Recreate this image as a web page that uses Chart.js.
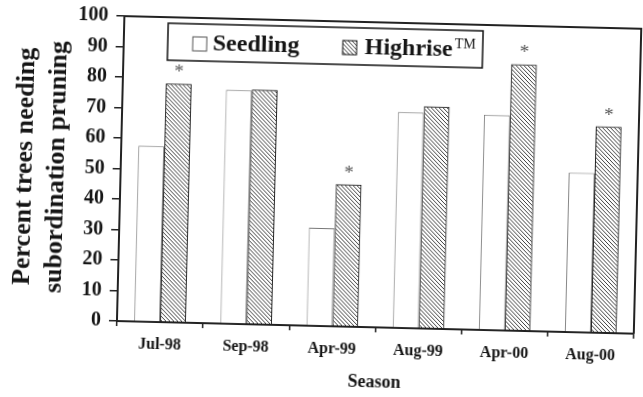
<!DOCTYPE html>
<html>
<head>
<meta charset="utf-8">
<script src="https://cdn.jsdelivr.net/npm/chart.js@4"></script>
<style>
  html, body { margin: 0; padding: 0; background: #fff; overflow: hidden; }
  /* the scanned figure sits slightly rotated on the page */
  #wrap { width: 643px; height: 397px; transform: rotate(1.4deg); transform-origin: 50% 50%; }
</style>
</head>
<body>
<div id="wrap"><canvas id="chart" width="643" height="397"></canvas></div>
<script>
const seasons = ['Jul-98', 'Sep-98', 'Apr-99', 'Aug-99', 'Apr-00', 'Aug-00'];
const seedling = [57.6, 76.6, 32.1, 70.7, 70.6, 52.3];
const highrise = [78.3, 77.0, 46.6, 72.9, 87.4, 67.7];
const significant = [true, false, true, false, true, true];
const seriesNames = ['Seedling', 'Highrise'];

const SERIF = '"Liberation Serif", "Times New Roman", serif';
const INK = '#151515';

const canvas = document.getElementById('chart');
const ctx = canvas.getContext('2d');

// diagonal hatch for the Highrise bars
const hatch = (() => {
  const c = document.createElement('canvas');
  c.width = 4; c.height = 4;
  const g = c.getContext('2d');
  g.strokeStyle = '#1a1a1a';
  g.lineWidth = 0.85;
  g.beginPath();
  g.moveTo(-1, -1); g.lineTo(5, 5);
  g.moveTo(-1, 3); g.lineTo(1, 5);
  g.moveTo(3, -1); g.lineTo(5, 1);
  g.stroke();
  return ctx.createPattern(c, 'repeat');
})();

// top + right frame lines, the boxed legend and the asterisks
const extras = {
  id: 'extras',
  afterDraw(chart) {
    const { ctx, chartArea: a } = chart;
    ctx.save();

    ctx.strokeStyle = '#222';
    ctx.lineWidth = 2;
    ctx.beginPath();
    ctx.moveTo(a.left, a.top);
    ctx.lineTo(a.right, a.top);
    ctx.lineTo(a.right, a.bottom);
    ctx.stroke();

    // asterisks over significant Highrise bars
    const meta = chart.getDatasetMeta(1);
    ctx.fillStyle = '#555';
    ctx.font = '19px ' + SERIF;
    ctx.textAlign = 'center';
    ctx.textBaseline = 'alphabetic';
    significant.forEach((s, i) => {
      if (!s) return;
      const el = meta.data[i];
      ctx.fillText('*', el.x, el.y - 6);
    });

    // legend box
    const bx = a.left + 44, by = a.top + 6, bw = 315, bh = 37;
    ctx.fillStyle = '#fff';
    ctx.fillRect(bx, by, bw, bh);
    ctx.strokeStyle = '#111';
    ctx.lineWidth = 1.5;
    ctx.strokeRect(bx, by, bw, bh);

    // seedling swatch
    ctx.lineWidth = 1;
    ctx.strokeStyle = '#555';
    ctx.strokeRect(bx + 25, by + 13, 14, 14);
    // highrise swatch
    ctx.fillStyle = hatch;
    ctx.fillRect(bx + 175, by + 13, 14, 14);
    ctx.strokeStyle = '#111';
    ctx.strokeRect(bx + 175, by + 13, 14, 14);

    ctx.fillStyle = INK;
    ctx.textAlign = 'left';
    ctx.textBaseline = 'alphabetic';
    ctx.font = 'bold 24px ' + SERIF;
    ctx.fillText(seriesNames[0], bx + 45, by + 26);
    ctx.fillText(seriesNames[1], bx + 197, by + 26);
    const w = ctx.measureText(seriesNames[1]).width;
    ctx.font = '14px ' + SERIF;
    ctx.fillText('TM', bx + 199 + w, by + 18);

    ctx.restore();
  }
};

new Chart(canvas, {
  type: 'bar',
  data: {
    labels: seasons,
    datasets: [{
      label: seriesNames[0],
      data: seedling,
      backgroundColor: '#fff',
      borderColor: '#777',
      borderWidth: 1
    }, {
      label: seriesNames[1],
      data: highrise,
      backgroundColor: hatch,
      borderColor: '#111',
      borderWidth: 1
    }]
  },
  options: {
    responsive: false,
    animation: false,
    layout: { padding: { top: 21, right: 6, left: 0, bottom: 0 } },
    datasets: {
      bar: { categoryPercentage: 0.6, barPercentage: 1 }
    },
    plugins: {
      legend: { display: false },
      tooltip: { enabled: false }
    },
    scales: {
      x: {
        grid: { offset: true, drawOnChartArea: false, tickLength: 5, color: '#222', lineWidth: 1.5 },
        border: { color: '#222', width: 2 },
        ticks: {
          color: INK,
          padding: 8,
          maxRotation: 0,
          autoSkip: false,
          font: { family: SERIF, size: 16, weight: 'bold' }
        },
        title: {
          display: true,
          text: 'Season',
          color: INK,
          padding: { top: 0, bottom: 5 },
          font: { family: SERIF, size: 18, weight: 'bold' }
        },
        afterFit: s => { s.height = 71; }
      },
      y: {
        min: 0,
        max: 100,
        grid: { drawOnChartArea: false, tickLength: 8, color: '#222', lineWidth: 1.5 },
        border: { color: '#222', width: 2 },
        ticks: {
          stepSize: 10,
          color: INK,
          padding: 8,
          font: { family: SERIF, size: 20, weight: 'bold' }
        },
        title: {
          display: true,
          text: ['Percent trees needing', 'subordination pruning'],
          color: INK,
          padding: { top: 9, bottom: 0 },
          font: { family: SERIF, size: 26, weight: 'bold', lineHeight: 1.2 }
        },
        afterFit: s => { s.width = 120; }
      }
    }
  },
  plugins: [extras]
});
</script>
</body>
</html>
